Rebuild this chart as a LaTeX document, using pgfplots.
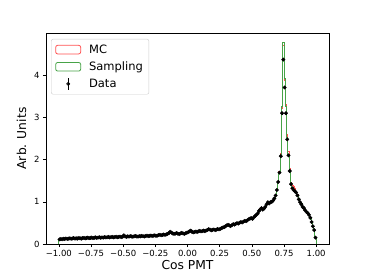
\documentclass[border=0pt]{standalone}
\usepackage{fontspec}
\setmainfont{DejaVu Sans}
\usepackage{pgfplots}
\usepackage{pgfplotstable}
\pgfplotsset{compat=1.18}
\definecolor{mcred}{rgb}{1.0,0.32,0.32}
\definecolor{sampgreen}{rgb}{0.28,0.64,0.28}
\pgfplotstableread{
x mc samp data err
-1.00 0 0 nan nan
-1.00 0.114 0.107 0.110 0.010
-0.99 0.114 0.123 0.118 0.010
-0.98 0.114 0.107 0.112 0.010
-0.97 0.119 0.128 0.125 0.010
-0.96 0.122 0.118 0.118 0.010
-0.95 0.136 0.127 0.130 0.010
-0.94 0.118 0.127 0.122 0.010
-0.93 0.130 0.123 0.128 0.010
-0.92 0.129 0.138 0.135 0.010
-0.91 0.128 0.124 0.124 0.010
-0.90 0.138 0.129 0.132 0.010
-0.89 0.136 0.145 0.140 0.010
-0.88 0.130 0.123 0.128 0.010
-0.87 0.130 0.139 0.136 0.010
-0.86 0.134 0.130 0.130 0.010
-0.85 0.148 0.139 0.142 0.010
-0.84 0.131 0.140 0.135 0.010
-0.83 0.130 0.123 0.128 0.010
-0.82 0.134 0.143 0.140 0.010
-0.81 0.150 0.146 0.146 0.010
-0.80 0.140 0.131 0.134 0.010
-0.79 0.138 0.147 0.142 0.010
-0.78 0.152 0.145 0.150 0.010
-0.77 0.132 0.141 0.138 0.010
-0.76 0.149 0.145 0.145 0.010
-0.75 0.158 0.149 0.152 0.010
-0.74 0.136 0.145 0.140 0.010
-0.73 0.150 0.143 0.148 0.010
-0.72 0.152 0.161 0.158 0.010
-0.71 0.149 0.145 0.145 0.010
-0.70 0.158 0.149 0.152 0.010
-0.69 0.156 0.165 0.160 0.010
-0.68 0.150 0.143 0.148 0.010
-0.67 0.149 0.158 0.155 0.010
-0.66 0.154 0.150 0.150 0.010
-0.65 0.168 0.159 0.162 0.010
-0.64 0.151 0.160 0.155 0.010
-0.63 0.162 0.155 0.160 0.010
-0.62 0.162 0.171 0.168 0.010
-0.61 0.159 0.155 0.155 0.010
-0.60 0.168 0.159 0.162 0.010
-0.59 0.166 0.175 0.170 0.010
-0.58 0.160 0.153 0.158 0.010
-0.57 0.159 0.168 0.165 0.010
-0.56 0.176 0.172 0.172 0.010
-0.55 0.166 0.157 0.160 0.010
-0.54 0.164 0.173 0.168 0.010
-0.53 0.177 0.170 0.175 0.010
-0.52 0.159 0.168 0.165 0.010
-0.51 0.176 0.172 0.172 0.010
-0.50 0.205 0.200 0.205 0.010
-0.49 0.174 0.183 0.178 0.010
-0.48 0.172 0.165 0.170 0.010
-0.47 0.176 0.185 0.182 0.010
-0.46 0.179 0.175 0.175 0.010
-0.45 0.191 0.182 0.185 0.010
-0.44 0.174 0.183 0.178 0.010
-0.43 0.174 0.167 0.172 0.010
-0.42 0.177 0.186 0.183 0.010
-0.41 0.194 0.190 0.190 0.010
-0.40 0.186 0.177 0.180 0.010
-0.39 0.172 0.181 0.176 0.010
-0.38 0.190 0.183 0.188 0.010
-0.37 0.176 0.185 0.182 0.010
-0.36 0.196 0.192 0.192 0.010
-0.35 0.191 0.182 0.185 0.010
-0.34 0.174 0.183 0.178 0.010
-0.33 0.192 0.185 0.190 0.010
-0.32 0.190 0.199 0.196 0.010
-0.31 0.190 0.186 0.186 0.010
-0.30 0.200 0.191 0.194 0.010
-0.29 0.196 0.205 0.200 0.010
-0.28 0.192 0.185 0.190 0.010
-0.27 0.192 0.201 0.198 0.010
-0.26 0.209 0.205 0.205 0.010
-0.25 0.201 0.192 0.195 0.010
-0.24 0.196 0.205 0.200 0.010
-0.23 0.212 0.205 0.210 0.010
-0.22 0.212 0.221 0.218 0.010
-0.21 0.212 0.208 0.208 0.010
-0.20 0.221 0.212 0.215 0.010
-0.19 0.221 0.230 0.225 0.010
-0.18 0.220 0.213 0.218 0.010
-0.17 0.224 0.233 0.230 0.010
-0.16 0.244 0.240 0.240 0.010
-0.15 0.261 0.252 0.255 0.012
-0.14 0.286 0.295 0.290 0.012
-0.13 0.272 0.265 0.270 0.012
-0.12 0.244 0.253 0.250 0.012
-0.11 0.242 0.238 0.238 0.012
-0.10 0.251 0.242 0.245 0.012
-0.09 0.256 0.265 0.260 0.012
-0.08 0.247 0.240 0.245 0.012
-0.07 0.229 0.238 0.235 0.012
-0.06 0.254 0.250 0.250 0.012
-0.05 0.268 0.259 0.262 0.012
-0.04 0.246 0.255 0.250 0.012
-0.03 0.242 0.235 0.240 0.012
-0.02 0.249 0.258 0.255 0.012
-0.01 0.272 0.268 0.268 0.012
0.00 0.286 0.277 0.280 0.012
0.01 0.296 0.305 0.300 0.012
0.02 0.317 0.310 0.315 0.012
0.03 0.284 0.293 0.290 0.012
0.04 0.279 0.275 0.275 0.012
0.05 0.291 0.282 0.285 0.012
0.06 0.291 0.300 0.295 0.012
0.07 0.287 0.280 0.285 0.012
0.08 0.294 0.303 0.300 0.012
0.09 0.314 0.310 0.310 0.012
0.10 0.304 0.295 0.298 0.012
0.11 0.301 0.310 0.305 0.012
0.12 0.320 0.313 0.318 0.012
0.13 0.299 0.308 0.305 0.012
0.14 0.324 0.320 0.320 0.012
0.15 0.341 0.332 0.335 0.012
0.16 0.346 0.355 0.350 0.012
0.17 0.342 0.335 0.340 0.012
0.18 0.319 0.328 0.325 0.012
0.19 0.339 0.335 0.335 0.012
0.20 0.351 0.342 0.345 0.012
0.21 0.326 0.335 0.330 0.012
0.22 0.342 0.335 0.340 0.012
0.23 0.349 0.358 0.355 0.012
0.24 0.349 0.345 0.345 0.012
0.25 0.366 0.357 0.360 0.014
0.26 0.371 0.380 0.375 0.014
0.27 0.392 0.385 0.390 0.014
0.28 0.394 0.403 0.400 0.014
0.29 0.424 0.420 0.420 0.014
0.30 0.446 0.437 0.440 0.014
0.31 0.451 0.460 0.455 0.014
0.32 0.442 0.435 0.440 0.014
0.33 0.419 0.428 0.425 0.014
0.34 0.449 0.445 0.445 0.014
0.35 0.476 0.467 0.470 0.014
0.36 0.456 0.465 0.460 0.014
0.37 0.477 0.470 0.475 0.014
0.38 0.489 0.498 0.495 0.014
0.39 0.489 0.485 0.485 0.014
0.40 0.511 0.502 0.505 0.015
0.41 0.516 0.525 0.520 0.015
0.42 0.512 0.505 0.510 0.015
0.43 0.524 0.533 0.530 0.015
0.44 0.554 0.550 0.550 0.015
0.45 0.546 0.537 0.540 0.015
0.46 0.556 0.565 0.560 0.015
0.47 0.587 0.580 0.585 0.015
0.48 0.594 0.603 0.600 0.015
0.49 0.619 0.615 0.615 0.015
0.50 0.605 0.592 0.595 0.016
0.51 0.640 0.625 0.630 0.016
0.52 0.670 0.655 0.660 0.016
0.53 0.700 0.695 0.690 0.016
0.54 0.735 0.715 0.720 0.017
0.55 0.800 0.785 0.780 0.017
0.56 0.845 0.815 0.820 0.018
0.57 0.860 0.845 0.850 0.018
0.58 0.840 0.820 0.815 0.018
0.59 0.850 0.835 0.840 0.018
0.60 0.880 0.885 0.880 0.019
0.61 0.935 0.950 0.940 0.019
0.62 0.990 0.985 0.990 0.020
0.63 0.975 0.960 0.960 0.020
0.64 0.995 0.990 0.990 0.020
0.65 1.010 1.000 1.000 0.020
0.66 1.040 1.030 1.030 0.021
0.67 1.090 1.085 1.080 0.021
0.68 1.170 1.150 1.150 0.022
0.69 1.290 1.285 1.280 0.023
0.70 1.490 1.470 1.470 0.025
0.71 1.720 1.700 1.690 0.027
0.72 2.150 2.100 2.080 0.030
0.73 3.220 3.270 3.100 0.036
0.74 4.700 4.770 4.370 0.043
0.75 3.880 3.930 3.710 0.040
0.76 3.300 3.250 3.100 0.036
0.77 2.600 2.520 2.480 0.032
0.78 2.200 2.120 2.100 0.030
0.79 1.780 1.750 1.730 0.027
0.80 1.470 1.430 1.420 0.025
0.81 1.380 1.330 1.320 0.024
0.82 1.360 1.300 1.280 0.023
0.83 1.320 1.270 1.250 0.023
0.84 1.250 1.230 1.220 0.023
0.85 1.170 1.160 1.150 0.022
0.86 1.070 1.080 1.060 0.021
0.87 1.000 1.010 0.990 0.021
0.88 0.940 0.955 0.940 0.020
0.89 0.890 0.880 0.880 0.019
0.90 0.860 0.865 0.850 0.019
0.91 0.810 0.800 0.800 0.018
0.92 0.770 0.765 0.760 0.018
0.93 0.735 0.740 0.730 0.018
0.94 0.700 0.690 0.690 0.017
0.95 0.625 0.630 0.620 0.016
0.96 0.525 0.530 0.520 0.015
0.97 0.425 0.420 0.420 0.014
0.98 0.335 0.340 0.330 0.012
0.99 0.150 0.160 0.150 0.010
1.00 0 0 nan nan
}\histtab
\begin{document}
\begin{tikzpicture}
\begin{axis}[
  at={(0pt,0pt)}, anchor=south west,
  scale only axis,
  width=283pt, height=211pt,
  xmin=-1.1, xmax=1.1,
  ymin=0, ymax=5.0,
  xtick={-1,-0.75,-0.5,-0.25,0,0.25,0.5,0.75,1},
  xticklabels={−1.00,−0.75,−0.50,−0.25,0.00,0.25,0.50,0.75,1.00},
  ytick={0,1,2,3,4},
  yticklabels={0,1,2,3,4},
  tick align=outside,
  tick pos=lower,
  major tick length=3pt,
  axis line style={line width=0.6pt},
  tick style={line width=0.6pt, black},
  ticklabel style={font=\fontsize{8.5}{10}\selectfont},
  xlabel={Cos PMT},
  ylabel={Arb. Units},
  label style={font=\fontsize{12.3}{14}\selectfont},
  xlabel style={yshift=3pt},
  ylabel style={yshift=1pt},
  legend style={at={(0.018,0.972)}, anchor=north west,
    draw=black!20, rounded corners=2pt, fill=white, fill opacity=0.8, text opacity=1,
    font=\fontsize{11.5}{13}\selectfont, row sep=3pt, inner xsep=4pt, inner ysep=3.5pt,
    /tikz/every odd column/.append style={column sep=6pt}},
  legend cell align=left,
]
\addplot[const plot mark left, draw=mcred, line width=0.9pt,
  legend image code/.code={\draw[mcred, line width=0.8pt] (0pt,-4.3pt) rectangle (25pt,4.3pt);}]
  table[x=x, y=mc] {\histtab};
\addlegendentry{MC}
\addplot[const plot mark left, draw=sampgreen, line width=0.9pt,
  legend image code/.code={\draw[sampgreen, line width=0.8pt] (0pt,-4.3pt) rectangle (25pt,4.3pt);}]
  table[x=x, y=samp] {\histtab};
\addlegendentry{Sampling}
\addplot[only marks, black, mark=*, mark size=1.75pt,
  legend image code/.code={\draw[black, line width=0.8pt] (12.5pt,-6pt) -- (12.5pt,6pt); \fill[black] (12.5pt,0pt) circle (1.7pt); \path (0pt,0pt) (25pt,0pt);},
  error bars/.cd, y dir=both, y explicit, error bar style={line width=0.8pt, black},
  error mark=none]
  table[x expr=\thisrow{x}+0.005, y=data, y error=err] {\histtab};
\addlegendentry{Data}
\end{axis}
\pgfresetboundingbox
\path[use as bounding box] (-46pt,-30pt) rectangle (319pt,244pt);
\end{tikzpicture}
\end{document}
